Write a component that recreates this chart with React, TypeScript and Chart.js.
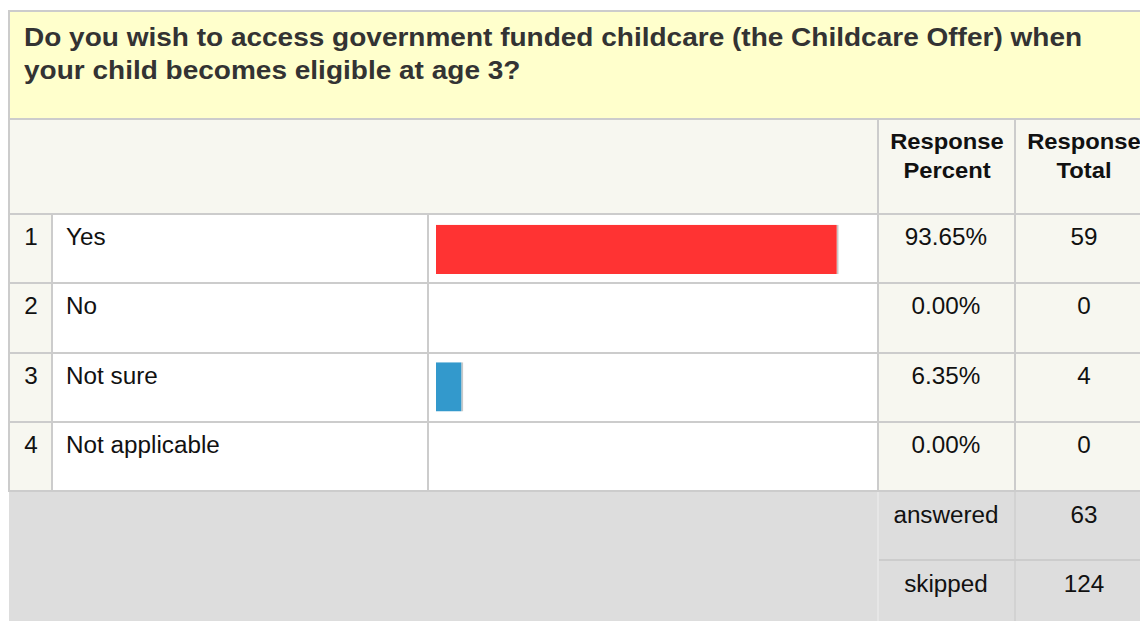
import React, { useEffect, useRef } from 'react';
import { Chart, registerables } from 'chart.js';

Chart.register(...registerables);

const titleLines = [
  'Do you wish to access government funded childcare (the Childcare Offer) when',
  'your child becomes eligible at age 3?',
];
const headerPercent = ['Response', 'Percent'];
const headerTotal = ['Response', 'Total'];
const categories = ['Yes', 'No', 'Not sure', 'Not applicable'];
const responsePercent = [93.65, 0.0, 6.35, 0.0];
const responseTotal = [59, 0, 4, 0];
const barColors = ['#FF3333', '#3399CC', '#3399CC', '#3399CC'];
const summaryLabels = ['answered', 'skipped'];
const summaryValues = [63, 124];

const FONT = '"Liberation Sans", Arial, Helvetica, sans-serif';
const CREAM = '#F7F7F0';
const LINE = '#CCCCCC';
const CELL_SIZE = 23;
const CELL_SX = 1.055;

type TxtProps = {
  x: number;
  base: number;
  size: number;
  bold?: boolean;
  align?: 'left' | 'center';
  color?: string;
  sx?: number;
  children: React.ReactNode;
};

function Txt({ x, base, size, bold, align = 'left', color = '#111111', sx = 1, children }: TxtProps) {
  const top = base - 0.8465 * size;
  const center = align === 'center';
  return (
    <div
      style={{
        position: 'absolute',
        top,
        left: center ? x - 300 : x,
        width: center ? 600 : undefined,
        textAlign: center ? 'center' : 'left',
        whiteSpace: 'nowrap',
        fontFamily: FONT,
        fontSize: size,
        lineHeight: `${size}px`,
        fontWeight: bold ? 'bold' : 'normal',
        color,
        transform: `scaleX(${sx})`,
        transformOrigin: center ? 'center' : 'left',
      }}
    >
      {children}
    </div>
  );
}

function Box({ x, y, w, h, bg }: { x: number; y: number; w: number; h: number; bg: string }) {
  return <div style={{ position: 'absolute', left: x, top: y, width: w, height: h, background: bg }} />;
}

const rowTops = [215, 284, 354, 423];
const rowBottoms = [282, 352, 421, 490];

function BarChart() {
  const ref = useRef<HTMLCanvasElement | null>(null);
  useEffect(() => {
    if (!ref.current) return;
    const chart = new Chart(ref.current, {
      type: 'bar',
      data: {
        labels: categories,
        datasets: [
          {
            data: responsePercent,
            backgroundColor: barColors,
            borderColor: '#C8C8C8',
            borderWidth: { top: 0, right: 2, bottom: 0, left: 0 },
            borderSkipped: false,
            barPercentage: 0.713,
            categoryPercentage: 1,
          },
        ],
      },
      options: {
        indexAxis: 'y',
        responsive: false,
        animation: false,
        devicePixelRatio: 1,
        layout: { padding: { left: 7, right: 11, top: 0, bottom: 0 } },
        scales: {
          x: { display: false, min: 0, max: 100 },
          y: { display: false },
        },
        plugins: { legend: { display: false }, tooltip: { enabled: false } },
      },
    });
    return () => chart.destroy();
  }, []);
  return (
    <canvas
      ref={ref}
      width={448}
      height={275}
      style={{ position: 'absolute', left: 429, top: 215, width: 448, height: 275 }}
    />
  );
}

export default function App() {
  return (
    <div
      style={{
        position: 'fixed',
        left: 0,
        top: 0,
        width: 1140,
        height: 621,
        overflow: 'hidden',
        background: '#FFFFFF',
      }}
    >
      {/* Title box */}
      <Box x={8} y={10} w={1200} h={110} bg={LINE} />
      <Box x={10} y={12} w={1200} h={106} bg="#FFFFCC" />
      {titleLines.map((t, i) => (
        <Txt key={i} x={24} base={46 + i * 33} size={26} bold color="#333333" sx={1.077}>
          {t}
        </Txt>
      ))}

      {/* Table grid background (lines) */}
      <Box x={8} y={118} w={1200} h={374} bg={LINE} />
      {/* Header */}
      <Box x={10} y={120} w={867} h={93} bg={CREAM} />
      <Box x={879} y={120} w={135} h={93} bg={CREAM} />
      <Box x={1016} y={120} w={200} h={93} bg={CREAM} />
      {headerPercent.map((t, i) => (
        <Txt key={'hp' + i} x={946.5} base={150 + i * 29} size={22} bold align="center" sx={1.08}>
          {t}
        </Txt>
      ))}
      {headerTotal.map((t, i) => (
        <Txt key={'ht' + i} x={1083.5} base={150 + i * 29} size={22} bold align="center" sx={1.08}>
          {t}
        </Txt>
      ))}

      {/* Rows */}
      {categories.map((c, i) => {
        const top = rowTops[i];
        const h = rowBottoms[i] - top;
        const base = top + 30;
        return (
          <React.Fragment key={c}>
            <Box x={10} y={top} w={41} h={h} bg={CREAM} />
            <Box x={53} y={top} w={374} h={h} bg="#FFFFFF" />
            <Box x={429} y={top} w={448} h={h} bg="#FFFFFF" />
            <Box x={879} y={top} w={135} h={h} bg={CREAM} />
            <Box x={1016} y={top} w={200} h={h} bg={CREAM} />
            <Txt x={31} base={base} size={CELL_SIZE} align="center" sx={CELL_SX}>
              {i + 1}
            </Txt>
            <Txt x={66} base={base} size={CELL_SIZE} sx={CELL_SX}>
              {c}
            </Txt>
            <Txt x={946} base={base} size={CELL_SIZE} align="center" sx={CELL_SX}>
              {responsePercent[i].toFixed(2) + '%'}
            </Txt>
            <Txt x={1083.5} base={base} size={CELL_SIZE} align="center" sx={CELL_SX}>
              {responseTotal[i]}
            </Txt>
          </React.Fragment>
        );
      })}

      <BarChart />

      {/* Summary */}
      <Box x={9} y={492} w={1200} h={140} bg="#DDDDDD" />
      <Box x={877} y={492} w={2} h={140} bg="#E6E6E6" />
      <Box x={1014} y={492} w={2} h={140} bg="#D2D2D2" />
      <Box x={879} y={559} w={300} h={2} bg="#CCCCCC" />
      {summaryLabels.map((t, i) => (
        <React.Fragment key={t}>
          <Txt x={946} base={523 + i * 69} size={CELL_SIZE} align="center" sx={CELL_SX}>
            {t}
          </Txt>
          <Txt x={1083.5} base={523 + i * 69} size={CELL_SIZE} align="center" sx={CELL_SX}>
            {summaryValues[i]}
          </Txt>
        </React.Fragment>
      ))}
    </div>
  );
}
